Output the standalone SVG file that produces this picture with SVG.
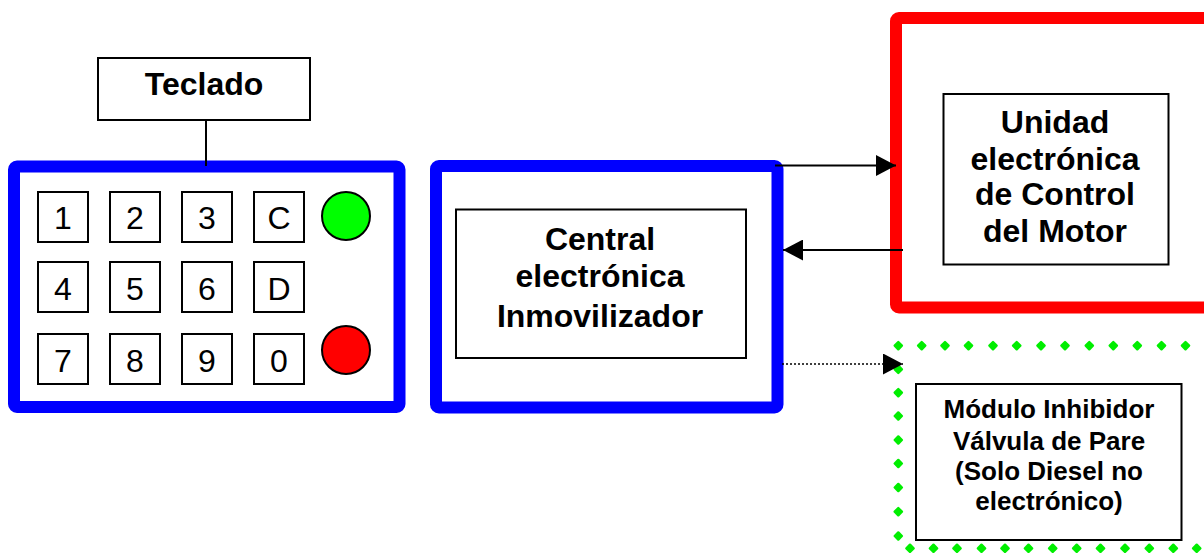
<svg xmlns="http://www.w3.org/2000/svg" xmlns:xlink="http://www.w3.org/1999/xlink" width="1204" height="553" viewBox="0 0 1204 553">
  <style>
    .frame-blue { fill: #fff; stroke: #0000ff; stroke-width: 12; stroke-linejoin: round; }
    .frame-red { fill: #fff; stroke: #ff0000; stroke-width: 12; stroke-linejoin: round; }
    .box { fill: #fff; stroke: #000; stroke-width: 2; }
    .key { fill: #fff; stroke: #000; stroke-width: 2; }
    .key-t { font-family: "Liberation Sans", Arial, sans-serif; font-size: 32px; fill: #000; text-anchor: middle; }
    .lbl { font-family: "Liberation Sans", Arial, sans-serif; font-weight: bold; font-size: 32px; fill: #000; text-anchor: middle; }
    .lbl-s { font-family: "Liberation Sans", Arial, sans-serif; font-weight: bold; font-size: 26px; fill: #000; text-anchor: middle; }
    .wire { fill: none; stroke: #000; stroke-width: 2; }
    .wire-dot { fill: none; stroke: #000; stroke-width: 1.6; stroke-dasharray: 2 2; }
    .lamp { stroke: #000; stroke-width: 2; }
  </style>
  <defs>
    <marker id="head" viewBox="0 0 20 21" refX="20" refY="10.5" markerWidth="20" markerHeight="21" markerUnits="userSpaceOnUse" orient="auto">
      <path d="M0 0 L20 10.5 L0 21 Z" fill="#000"/>
    </marker>
    <!-- one bead of the green round-dot border -->
    <path id="gdot" d="M0 -3.6 L3.6 0 L0 3.6 L-3.6 0 Z" fill="#00ee00" stroke="#00ee00" stroke-width="2.4" stroke-linejoin="round"/>
  </defs>

  <rect width="1204" height="553" fill="#fff"/>

  <!-- keypad label -->
  <g id="teclado">
    <rect class="box" x="98" y="58" width="212" height="62"/>
    <text class="lbl" x="204" y="95">Teclado</text>
  </g>

  <!-- keypad -->
  <g id="keypad">
    <rect class="frame-blue" x="14" y="166.5" width="385.5" height="240.5" rx="3"/>
    <g id="keys">
      <rect class="key" x="38" y="192" width="50" height="50"/>
      <rect class="key" x="110" y="192" width="50" height="50"/>
      <rect class="key" x="182" y="192" width="50" height="50"/>
      <rect class="key" x="254" y="192" width="50" height="50"/>
      <rect class="key" x="38" y="262" width="50" height="50"/>
      <rect class="key" x="110" y="262" width="50" height="50"/>
      <rect class="key" x="182" y="262" width="50" height="50"/>
      <rect class="key" x="254" y="262" width="50" height="50"/>
      <rect class="key" x="38" y="334" width="50" height="50"/>
      <rect class="key" x="110" y="334" width="50" height="50"/>
      <rect class="key" x="182" y="334" width="50" height="50"/>
      <rect class="key" x="254" y="334" width="50" height="50"/>
      <text class="key-t" x="63" y="229">1</text>
      <text class="key-t" x="135" y="229">2</text>
      <text class="key-t" x="207" y="229">3</text>
      <text class="key-t" x="279" y="229">C</text>
      <text class="key-t" x="63" y="300">4</text>
      <text class="key-t" x="135" y="300">5</text>
      <text class="key-t" x="207" y="300">6</text>
      <text class="key-t" x="279" y="300">D</text>
      <text class="key-t" x="63" y="372">7</text>
      <text class="key-t" x="135" y="372">8</text>
      <text class="key-t" x="207" y="372">9</text>
      <text class="key-t" x="279" y="372">0</text>
    </g>
    <circle class="lamp" cx="346" cy="216" r="24" fill="#00ff00"/>
    <circle class="lamp" cx="346" cy="350" r="24" fill="#ff0000"/>
  </g>

  <!-- immobiliser unit -->
  <g id="central">
    <rect class="frame-blue" x="436" y="166" width="341.5" height="241.5" rx="3"/>
    <rect class="box" x="456" y="209.5" width="290" height="148.5"/>
    <text class="lbl" x="600" y="250">Central</text>
    <text class="lbl" x="600" y="287">electrónica</text>
    <text class="lbl" x="600" y="327">Inmovilizador</text>
  </g>

  <!-- engine control unit -->
  <g id="ecu">
    <rect class="frame-red" x="896" y="18" width="400" height="289.5" rx="3"/>
    <rect class="box" x="943.5" y="94" width="225" height="170.5"/>
    <text class="lbl" x="1055" y="133">Unidad</text>
    <text class="lbl" x="1055" y="170">electrónica</text>
    <text class="lbl" x="1055" y="205">de Control</text>
    <text class="lbl" x="1055" y="241.5">del Motor</text>
  </g>

  <!-- stop valve inhibitor module -->
  <g id="inhibidor">
    <g id="dot-border">
      <use xlink:href="#gdot" href="#gdot" x="898.3" y="345.7"/>
      <use xlink:href="#gdot" href="#gdot" x="921.7" y="345.7"/>
      <use xlink:href="#gdot" href="#gdot" x="945" y="345.7"/>
      <use xlink:href="#gdot" href="#gdot" x="968.5" y="345.7"/>
      <use xlink:href="#gdot" href="#gdot" x="993" y="345.7"/>
      <use xlink:href="#gdot" href="#gdot" x="1016.7" y="345.7"/>
      <use xlink:href="#gdot" href="#gdot" x="1041" y="345.7"/>
      <use xlink:href="#gdot" href="#gdot" x="1065" y="345.7"/>
      <use xlink:href="#gdot" href="#gdot" x="1089.3" y="345.7"/>
      <use xlink:href="#gdot" href="#gdot" x="1113.3" y="345.7"/>
      <use xlink:href="#gdot" href="#gdot" x="1137.3" y="345.7"/>
      <use xlink:href="#gdot" href="#gdot" x="1161.5" y="345.7"/>
      <use xlink:href="#gdot" href="#gdot" x="1185.5" y="345.7"/>
      <use xlink:href="#gdot" href="#gdot" x="898.3" y="369.3"/>
      <use xlink:href="#gdot" href="#gdot" x="898.3" y="392.7"/>
      <use xlink:href="#gdot" href="#gdot" x="898.3" y="416"/>
      <use xlink:href="#gdot" href="#gdot" x="898.3" y="440"/>
      <use xlink:href="#gdot" href="#gdot" x="898.3" y="463.5"/>
      <use xlink:href="#gdot" href="#gdot" x="898.3" y="487.5"/>
      <use xlink:href="#gdot" href="#gdot" x="898.3" y="511.7"/>
      <use xlink:href="#gdot" href="#gdot" x="898.3" y="536"/>
      <use xlink:href="#gdot" href="#gdot" x="910" y="548.3"/>
      <use xlink:href="#gdot" href="#gdot" x="933.5" y="548.3"/>
      <use xlink:href="#gdot" href="#gdot" x="957" y="548.3"/>
      <use xlink:href="#gdot" href="#gdot" x="981.5" y="548.3"/>
      <use xlink:href="#gdot" href="#gdot" x="1005" y="548.3"/>
      <use xlink:href="#gdot" href="#gdot" x="1028.5" y="548.3"/>
      <use xlink:href="#gdot" href="#gdot" x="1052.7" y="548.3"/>
      <use xlink:href="#gdot" href="#gdot" x="1076.7" y="548.3"/>
      <use xlink:href="#gdot" href="#gdot" x="1100.5" y="548.3"/>
      <use xlink:href="#gdot" href="#gdot" x="1125" y="548.3"/>
      <use xlink:href="#gdot" href="#gdot" x="1149.3" y="548.3"/>
      <use xlink:href="#gdot" href="#gdot" x="1173.3" y="548.3"/>
      <use xlink:href="#gdot" href="#gdot" x="1196.7" y="548.3"/>
    </g>
    <rect class="box" x="916" y="384" width="265.5" height="156"/>
    <text class="lbl-s" x="1049" y="418">Módulo Inhibidor</text>
    <text class="lbl-s" x="1049" y="450">Válvula de Pare</text>
    <text class="lbl-s" x="1049" y="480">(Solo Diesel no</text>
    <text class="lbl-s" x="1049" y="510">electrónico)</text>
  </g>

  <!-- connectors -->
  <g id="connectors">
    <line class="wire" x1="206" y1="120" x2="206" y2="166"/>
    <line class="wire" x1="775" y1="165.5" x2="896" y2="165.5" marker-end="url(#head)"/>
    <line class="wire" x1="903" y1="250" x2="783" y2="250" marker-end="url(#head)"/>
    <line class="wire-dot" x1="782" y1="364" x2="903" y2="364" marker-end="url(#head)"/>
  </g>
</svg>
